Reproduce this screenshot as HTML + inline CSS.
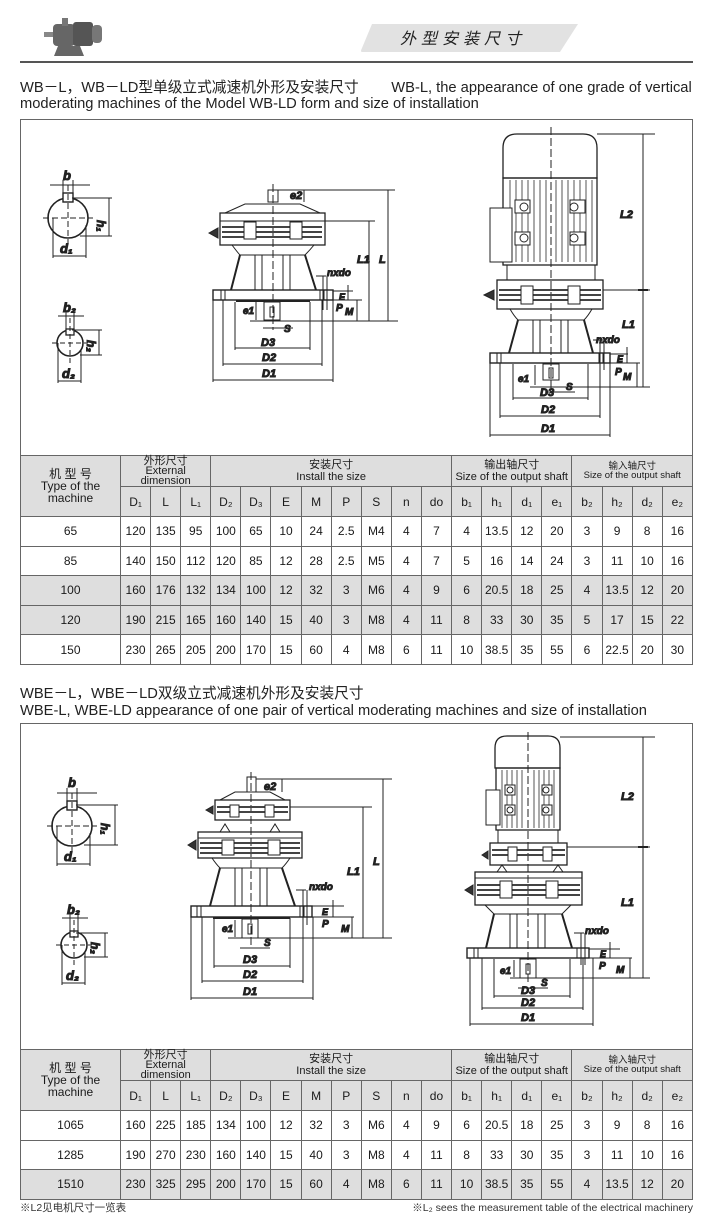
<!DOCTYPE html>
<html><head><meta charset="utf-8">
<style>
html,body{margin:0;padding:0;background:#fff;}
body{width:710px;height:1220px;position:relative;overflow:hidden;font-family:"Liberation Sans","Noto Sans CJK SC",sans-serif;color:#222;}
.abs{position:absolute;}
.h{font-size:14.7px;line-height:16px;white-space:nowrap;color:#222;}
table{position:absolute;left:20px;width:673px;border-collapse:collapse;table-layout:fixed;font-family:"Liberation Sans","Noto Sans CJK SC",sans-serif;}
td{border:1px solid #666;text-align:center;font-size:12px;padding:0;color:#1a1a1a;}
.g td,td.g{background:#dedede;}
.hd{font-size:11px;line-height:10px;}
.sm{font-size:9.5px;line-height:9px;}
.box{position:absolute;border:1.5px solid #666;left:20px;width:671px;}
svg text{font-family:"Liberation Sans",sans-serif;font-style:italic;font-weight:bold;fill:#222;}
</style></head><body>

<svg class="abs" style="left:40px;top:8px" width="70" height="52">
<rect x="4" y="24" width="10" height="5" fill="#888"/>
<rect x="13" y="16" width="22" height="22" rx="4" fill="#666"/>
<rect x="22" y="10" width="6" height="8" fill="#777"/>
<rect x="33" y="14" width="20" height="24" rx="3" fill="#555"/>
<rect x="52" y="17" width="10" height="18" rx="4" fill="#777"/>
<path d="M18 38 L40 38 L44 48 L14 48 Z" fill="#666"/>
</svg>
<svg class="abs" style="left:360px;top:22px" width="220" height="32">
<path d="M12 2 L218 2 L200 30 L2 30 Q0 30 2 26 Z" fill="#e2e2e2"/>
<text x="40" y="22" style="font-family:'Noto Sans CJK SC',sans-serif;font-size:16px;font-weight:normal;letter-spacing:5px" fill="#333">外型安装尺寸</text>
</svg>
<div class="abs" style="left:20px;top:61px;width:673px;height:2px;background:#555"></div>

<div class="abs h" style="left:20px;top:80px">WB－L，WB－LD型单级立式减速机外形及安装尺寸&nbsp;&nbsp;&nbsp;&nbsp;&nbsp;&nbsp;&nbsp;&nbsp;WB-L, the appearance of one grade of vertical</div>
<div class="abs h" style="left:20px;top:96px">moderating machines of the Model WB-LD form and size of installation</div>

<div class="box" style="top:119px;height:336px"></div>

<div class="abs h" style="left:20px;top:686px">WBE－L，WBE－LD双级立式减速机外形及安装尺寸</div>
<div class="abs h" style="left:20px;top:703px">WBE-L, WBE-LD appearance of one pair of vertical moderating machines and size of installation</div>

<div class="box" style="top:723px;height:326px"></div>

<svg class="abs" style="left:0;top:0" width="710" height="1220" fill="none" stroke="#222" stroke-width="1">
<g>
<circle cx="68" cy="218" r="20" stroke-width="1.6"/>
<rect x="63" y="193" width="10" height="9" fill="#fff" stroke-width="1.4"/>
<line x1="43" y1="218" x2="93" y2="218" stroke-dasharray="6 3"/>
<line x1="68" y1="185" x2="68" y2="246" stroke-dasharray="6 3"/>
<line x1="50" y1="185" x2="90" y2="185"/><line x1="63" y1="180" x2="63" y2="200"/><line x1="73" y1="180" x2="73" y2="200"/>
<line x1="72" y1="198" x2="112" y2="198"/><line x1="80" y1="236" x2="112" y2="236"/><line x1="109" y1="198" x2="109" y2="236"/>
<line x1="53" y1="218" x2="53" y2="258"/><line x1="86" y1="225" x2="86" y2="258"/><line x1="53" y1="256" x2="86" y2="256"/>
<text x="63" y="180" font-size="13" font-style="normal">b</text>
<text x="102" y="225" font-size="12" font-style="normal" transform="rotate(90 102 220)">h₁</text>
<text x="60" y="253" font-size="13" font-style="normal">d₁</text>
</g>
<g>
<circle cx="70" cy="343" r="13" stroke-width="1.6"/>
<rect x="66" y="329" width="8" height="6" fill="#fff" stroke-width="1.3"/>
<line x1="52" y1="343" x2="88" y2="343" stroke-dasharray="5 3"/>
<line x1="70" y1="318" x2="70" y2="365" stroke-dasharray="5 3"/>
<line x1="58" y1="316" x2="84" y2="316"/><line x1="66" y1="312" x2="66" y2="332"/><line x1="74" y1="312" x2="74" y2="332"/>
<line x1="72" y1="330" x2="102" y2="330"/><line x1="80" y1="355" x2="102" y2="355"/><line x1="99" y1="330" x2="99" y2="355"/>
<line x1="58" y1="343" x2="58" y2="383"/><line x1="81" y1="350" x2="81" y2="383"/><line x1="58" y1="381" x2="81" y2="381"/>
<text x="63" y="312" font-size="13" font-style="normal">b₂</text>
<text x="89" y="348" font-size="12" font-style="normal" transform="rotate(90 92 343)">h₂</text>
<text x="62" y="378" font-size="13" font-style="normal">d₂</text>
</g>

<g>
<line x1="273" y1="184" x2="273" y2="330" stroke-dasharray="8 3"/>
<rect x="268" y="190" width="10" height="12"/>
<path d="M225 213 L245 204 L300 204 L320 213 Z"/>
<rect x="220" y="213" width="105" height="32" stroke-width="1.3"/>
<line x1="220" y1="221" x2="325" y2="221"/>
<g stroke="#444" stroke-width="2"><line x1="222" y1="227" x2="322" y2="227"/><line x1="222" y1="232" x2="322" y2="232"/><line x1="222" y1="237" x2="322" y2="237"/></g>
<rect x="244" y="222" width="12" height="17" fill="#fff"/><rect x="290" y="222" width="12" height="17" fill="#fff"/>
<path d="M209 233 L218 228 L218 238 Z" fill="#333"/>
<path d="M232 245 Q238 253 240 255 L305 255 Q310 250 314 245"/>
<path d="M240 255 L231 290 M305 255 L316 290" stroke-width="2"/>
<line x1="255" y1="255" x2="255" y2="290"/><line x1="262" y1="255" x2="262" y2="290"/><line x1="283" y1="255" x2="283" y2="290"/><line x1="290" y1="255" x2="290" y2="290"/>
<rect x="213" y="290" width="120" height="10" stroke-width="1.4"/>
<line x1="221" y1="290" x2="221" y2="300"/><line x1="225" y1="290" x2="225" y2="300"/><line x1="320" y1="290" x2="320" y2="300"/><line x1="324" y1="290" x2="324" y2="300"/>
<line x1="236" y1="301" x2="310" y2="301" stroke-width="2"/>
<rect x="264" y="302" width="16" height="18"/>
<rect x="270" y="307" width="4" height="10"/>
<line x1="278" y1="190" x2="395" y2="190"/><line x1="325" y1="221" x2="375" y2="221"/><line x1="250" y1="321" x2="398" y2="321"/>
<line x1="388" y1="190" x2="388" y2="321"/><line x1="369" y1="221" x2="369" y2="321"/>
<line x1="304" y1="190" x2="304" y2="202"/>
<line x1="333" y1="291" x2="353" y2="291"/><line x1="333" y1="300" x2="362" y2="300"/>
<line x1="348" y1="285" x2="348" y2="300"/><line x1="357" y1="300" x2="357" y2="321"/>
<line x1="316" y1="276" x2="326" y2="276"/><line x1="323" y1="276" x2="323" y2="310"/><line x1="327" y1="276" x2="327" y2="310"/>
<line x1="256" y1="302" x2="256" y2="320"/>
<line x1="263" y1="328" x2="293" y2="328"/>
<line x1="235" y1="302" x2="235" y2="350"/><line x1="310" y1="302" x2="310" y2="350"/><line x1="235" y1="348" x2="310" y2="348"/>
<line x1="223" y1="300" x2="223" y2="366"/><line x1="322" y1="300" x2="322" y2="366"/><line x1="223" y1="364" x2="322" y2="364"/>
<line x1="213" y1="300" x2="213" y2="382"/><line x1="333" y1="300" x2="333" y2="382"/><line x1="213" y1="380" x2="333" y2="380"/>
<text x="290" y="199" font-size="11">e2</text>
<text x="357" y="263" font-size="11">L1</text><text x="379" y="263" font-size="11">L</text>
<text x="327" y="276" font-size="10">nxdo</text>
<text x="339" y="300" font-size="9">E</text><text x="336" y="311" font-size="10">P</text><text x="345" y="315" font-size="10">M</text>
<text x="243" y="314" font-size="10">e1</text><text x="284" y="332" font-size="10">S</text>
<text x="261" y="346" font-size="11">D3</text><text x="262" y="361" font-size="11">D2</text><text x="262" y="377" font-size="11">D1</text>
</g>

<g>
<line x1="551" y1="127" x2="551" y2="390" stroke-dasharray="8 3"/>
<path d="M503 178 L503 148 Q503 134 517 134 L583 134 Q597 134 597 148 L597 178 Z" stroke-width="1.3"/>
<rect x="503" y="178" width="94" height="87" stroke-width="1.3"/>
<g stroke="#555"><line x1="510" y1="180" x2="510" y2="262"/><line x1="516" y1="180" x2="516" y2="262"/><line x1="522" y1="180" x2="522" y2="262"/><line x1="528" y1="180" x2="528" y2="262"/><line x1="534" y1="180" x2="534" y2="262"/><line x1="540" y1="180" x2="540" y2="262"/><line x1="546" y1="180" x2="546" y2="262"/><line x1="556" y1="180" x2="556" y2="262"/><line x1="562" y1="180" x2="562" y2="262"/><line x1="568" y1="180" x2="568" y2="262"/><line x1="574" y1="180" x2="574" y2="262"/><line x1="580" y1="180" x2="580" y2="262"/><line x1="586" y1="180" x2="586" y2="262"/><line x1="592" y1="180" x2="592" y2="262"/></g>
<rect x="515" y="200" width="15" height="13" fill="#fff"/><circle cx="524" cy="207" r="4"/>
<rect x="515" y="232" width="15" height="13" fill="#fff"/><circle cx="524" cy="238" r="4"/>
<rect x="570" y="200" width="15" height="13" fill="#fff"/><circle cx="574" cy="207" r="4"/>
<rect x="570" y="232" width="15" height="13" fill="#fff"/><circle cx="574" cy="238" r="4"/>
<rect x="490" y="208" width="22" height="54" fill="#fff"/>
<rect x="507" y="265" width="88" height="15"/>
<rect x="497" y="280" width="106" height="29" stroke-width="1.3"/>
<g stroke="#444" stroke-width="2"><line x1="499" y1="290" x2="601" y2="290"/><line x1="499" y1="295" x2="601" y2="295"/><line x1="499" y1="300" x2="601" y2="300"/></g>
<rect x="521" y="286" width="12" height="18" fill="#fff"/><rect x="568" y="286" width="12" height="18" fill="#fff"/>
<path d="M484 295 L494 290 L494 300 Z" fill="#333"/>
<path d="M510 309 Q514 316 518 320 L584 320 Q588 316 592 309"/>
<path d="M518 320 L509 353 M584 320 L593 353" stroke-width="2"/>
<line x1="533" y1="320" x2="533" y2="353"/><line x1="540" y1="320" x2="540" y2="353"/><line x1="561" y1="320" x2="561" y2="353"/><line x1="568" y1="320" x2="568" y2="353"/>
<rect x="490" y="353" width="120" height="10" stroke-width="1.4"/>
<line x1="497" y1="353" x2="497" y2="363"/><line x1="501" y1="353" x2="501" y2="363"/><line x1="599" y1="353" x2="599" y2="363"/><line x1="603" y1="353" x2="603" y2="363"/>
<rect x="543" y="364" width="16" height="16"/><rect x="549" y="368" width="4" height="10"/>
<line x1="597" y1="134" x2="655" y2="134"/><line x1="603" y1="290" x2="650" y2="290"/><line x1="530" y1="387" x2="650" y2="387"/>
<line x1="643" y1="134" x2="643" y2="387"/><line x1="638" y1="290" x2="648" y2="290" stroke-width="2"/>
<line x1="610" y1="354" x2="628" y2="354"/><line x1="610" y1="363" x2="640" y2="363"/>
<line x1="627" y1="347" x2="627" y2="363"/><line x1="637" y1="363" x2="637" y2="387"/>
<line x1="593" y1="340" x2="603" y2="340"/><line x1="600" y1="340" x2="600" y2="370"/><line x1="604" y1="340" x2="604" y2="370"/>
<line x1="535" y1="365" x2="535" y2="385"/>
<line x1="545" y1="392" x2="575" y2="392"/>
<line x1="513" y1="364" x2="513" y2="400"/><line x1="588" y1="364" x2="588" y2="400"/><line x1="513" y1="398" x2="588" y2="398"/>
<line x1="500" y1="363" x2="500" y2="418"/><line x1="600" y1="363" x2="600" y2="418"/><line x1="500" y1="416" x2="600" y2="416"/>
<line x1="490" y1="363" x2="490" y2="437"/><line x1="610" y1="363" x2="610" y2="437"/><line x1="490" y1="435" x2="610" y2="435"/>
<text x="620" y="218" font-size="11">L2</text><text x="622" y="328" font-size="11">L1</text>
<text x="596" y="343" font-size="10">nxdo</text>
<text x="617" y="362" font-size="9">E</text><text x="615" y="375" font-size="10">P</text><text x="623" y="380" font-size="10">M</text>
<text x="518" y="382" font-size="10">e1</text><text x="566" y="390" font-size="10">S</text>
<text x="540" y="396" font-size="11">D3</text><text x="541" y="413" font-size="11">D2</text><text x="541" y="432" font-size="11">D1</text>
</g>

<g>
<circle cx="72" cy="826" r="20" stroke-width="1.6"/>
<rect x="67" y="801" width="10" height="9" fill="#fff" stroke-width="1.4"/>
<line x1="47" y1="826" x2="97" y2="826" stroke-dasharray="6 3"/>
<line x1="72" y1="793" x2="72" y2="854" stroke-dasharray="6 3"/>
<line x1="57" y1="793" x2="97" y2="793"/><line x1="67" y1="788" x2="67" y2="808"/><line x1="77" y1="788" x2="77" y2="808"/>
<line x1="76" y1="805" x2="118" y2="805"/><line x1="84" y1="845" x2="118" y2="845"/><line x1="115" y1="805" x2="115" y2="845"/>
<line x1="57" y1="826" x2="57" y2="866"/><line x1="90" y1="833" x2="90" y2="866"/><line x1="57" y1="864" x2="90" y2="864"/>
<text x="68" y="787" font-size="13" font-style="normal">b</text>
<text x="104" y="830" font-size="12" font-style="normal" transform="rotate(90 106 825)">h₁</text>
<text x="64" y="861" font-size="13" font-style="normal">d₁</text>
</g>
<g>
<circle cx="74" cy="945" r="13" stroke-width="1.6"/>
<rect x="70" y="931" width="8" height="6" fill="#fff" stroke-width="1.3"/>
<line x1="56" y1="945" x2="92" y2="945" stroke-dasharray="5 3"/>
<line x1="74" y1="920" x2="74" y2="967" stroke-dasharray="5 3"/>
<line x1="62" y1="918" x2="88" y2="918"/><line x1="70" y1="914" x2="70" y2="934"/><line x1="78" y1="914" x2="78" y2="934"/>
<line x1="76" y1="933" x2="108" y2="933"/><line x1="84" y1="957" x2="108" y2="957"/><line x1="105" y1="933" x2="105" y2="957"/>
<line x1="62" y1="945" x2="62" y2="985"/><line x1="85" y1="952" x2="85" y2="985"/><line x1="62" y1="983" x2="85" y2="983"/>
<text x="67" y="914" font-size="13" font-style="normal">b₂</text>
<text x="93" y="950" font-size="12" font-style="normal" transform="rotate(90 96 945)">h₂</text>
<text x="66" y="980" font-size="13" font-style="normal">d₂</text>
</g>

<g>
<line x1="251" y1="772" x2="251" y2="945" stroke-dasharray="8 3"/>
<rect x="247" y="777" width="9" height="15"/>
<path d="M220 800 L235 792 L270 792 L285 800 Z"/>
<rect x="215" y="800" width="75" height="20" stroke-width="1.3"/>
<g stroke="#444" stroke-width="2"><line x1="217" y1="807" x2="288" y2="807"/><line x1="217" y1="812" x2="288" y2="812"/></g>
<rect x="230" y="805" width="9" height="12" fill="#fff"/><rect x="265" y="805" width="9" height="12" fill="#fff"/>
<path d="M206 810 L213 806 L213 814 Z" fill="#333"/>
<path d="M220 832 L225 824 L230 832 M270 832 L275 824 L280 832"/>
<rect x="198" y="832" width="104" height="26" stroke-width="1.3"/>
<line x1="198" y1="838" x2="302" y2="838"/>
<g stroke="#444" stroke-width="2"><line x1="200" y1="843" x2="300" y2="843"/><line x1="200" y1="848" x2="300" y2="848"/><line x1="200" y1="853" x2="300" y2="853"/></g>
<rect x="222" y="840" width="12" height="15" fill="#fff"/><rect x="268" y="840" width="12" height="15" fill="#fff"/>
<path d="M188 845 L196 840 L196 850 Z" fill="#333"/>
<path d="M212 858 Q216 864 220 868 L282 868 Q286 864 290 858"/>
<path d="M220 868 L210 906 M282 868 L295 906" stroke-width="2"/>
<line x1="235" y1="868" x2="235" y2="906"/><line x1="242" y1="868" x2="242" y2="906"/><line x1="260" y1="868" x2="260" y2="906"/><line x1="267" y1="868" x2="267" y2="906"/>
<rect x="191" y="906" width="121" height="11" stroke-width="1.4"/>
<line x1="197" y1="906" x2="197" y2="917"/><line x1="201" y1="906" x2="201" y2="917"/><line x1="300" y1="906" x2="300" y2="917"/><line x1="304" y1="906" x2="304" y2="917"/>
<line x1="213" y1="918" x2="290" y2="918" stroke-width="2"/>
<rect x="242" y="919" width="16" height="19"/><rect x="248" y="924" width="4" height="10"/>
<line x1="256" y1="779" x2="392" y2="779"/><line x1="290" y1="807" x2="372" y2="807"/><line x1="228" y1="938" x2="392" y2="938"/>
<line x1="383" y1="779" x2="383" y2="938"/><line x1="363" y1="807" x2="363" y2="938"/>
<line x1="282" y1="779" x2="282" y2="792"/>
<line x1="312" y1="906" x2="344" y2="906"/><line x1="312" y1="917" x2="354" y2="917"/>
<line x1="333" y1="900" x2="333" y2="917"/><line x1="352" y1="917" x2="352" y2="938"/>
<line x1="296" y1="890" x2="306" y2="890"/><line x1="303" y1="890" x2="303" y2="925"/><line x1="307" y1="890" x2="307" y2="925"/>
<line x1="235" y1="920" x2="235" y2="937"/>
<line x1="240" y1="948" x2="270" y2="948"/>
<line x1="214" y1="918" x2="214" y2="968"/><line x1="290" y1="918" x2="290" y2="968"/><line x1="214" y1="966" x2="290" y2="966"/>
<line x1="202" y1="917" x2="202" y2="983"/><line x1="303" y1="917" x2="303" y2="983"/><line x1="202" y1="981" x2="303" y2="981"/>
<line x1="191" y1="917" x2="191" y2="1000"/><line x1="313" y1="917" x2="313" y2="1000"/><line x1="191" y1="998" x2="313" y2="998"/>
<text x="264" y="790" font-size="11">e2</text>
<text x="347" y="875" font-size="11">L1</text><text x="373" y="865" font-size="11">L</text>
<text x="309" y="890" font-size="10">nxdo</text>
<text x="322" y="915" font-size="9">E</text><text x="322" y="927" font-size="10">P</text><text x="341" y="932" font-size="10">M</text>
<text x="222" y="932" font-size="10">e1</text><text x="264" y="946" font-size="10">S</text>
<text x="243" y="963" font-size="11">D3</text><text x="243" y="978" font-size="11">D2</text><text x="243" y="995" font-size="11">D1</text>
</g>

<g>
<line x1="528" y1="732" x2="528" y2="985" stroke-dasharray="8 3"/>
<path d="M495 768 L495 748 Q495 736 507 736 L548 736 Q560 736 560 748 L560 768 Z" stroke-width="1.3"/>
<rect x="496" y="768" width="64" height="62" stroke-width="1.3"/>
<g stroke="#555"><line x1="502" y1="770" x2="502" y2="828"/><line x1="507" y1="770" x2="507" y2="828"/><line x1="512" y1="770" x2="512" y2="828"/><line x1="517" y1="770" x2="517" y2="828"/><line x1="522" y1="770" x2="522" y2="828"/><line x1="534" y1="770" x2="534" y2="828"/><line x1="539" y1="770" x2="539" y2="828"/><line x1="544" y1="770" x2="544" y2="828"/><line x1="549" y1="770" x2="549" y2="828"/><line x1="554" y1="770" x2="554" y2="828"/></g>
<rect x="505" y="785" width="10" height="10" fill="#fff"/><circle cx="510" cy="790" r="3"/>
<rect x="505" y="805" width="10" height="10" fill="#fff"/><circle cx="510" cy="810" r="3"/>
<rect x="542" y="785" width="10" height="10" fill="#fff"/><circle cx="546" cy="790" r="3"/>
<rect x="542" y="805" width="10" height="10" fill="#fff"/><circle cx="546" cy="810" r="3"/>
<rect x="486" y="790" width="14" height="35" fill="#fff"/>
<rect x="498" y="830" width="60" height="13"/>
<rect x="490" y="843" width="77" height="22" stroke-width="1.3"/>
<g stroke="#444" stroke-width="2"><line x1="492" y1="850" x2="565" y2="850"/><line x1="492" y1="855" x2="565" y2="855"/></g>
<rect x="508" y="847" width="9" height="14" fill="#fff"/><rect x="543" y="847" width="9" height="14" fill="#fff"/>
<path d="M482 855 L488 851 L488 859 Z" fill="#333"/>
<path d="M497 872 L502 865 L507 872 M553 872 L558 865 L563 872"/>
<rect x="475" y="872" width="107" height="33" stroke-width="1.3"/>
<line x1="475" y1="878" x2="582" y2="878"/>
<g stroke="#444" stroke-width="2"><line x1="477" y1="885" x2="580" y2="885"/><line x1="477" y1="890" x2="580" y2="890"/><line x1="477" y1="895" x2="580" y2="895"/></g>
<rect x="500" y="881" width="12" height="17" fill="#fff"/><rect x="546" y="881" width="12" height="17" fill="#fff"/>
<path d="M465 890 L473 885 L473 895 Z" fill="#333"/>
<path d="M485 905 Q490 910 494 914 L562 914 Q566 910 571 905"/>
<path d="M494 914 L486 948 M562 914 L572 948" stroke-width="2"/>
<line x1="510" y1="914" x2="510" y2="948"/><line x1="517" y1="914" x2="517" y2="948"/><line x1="538" y1="914" x2="538" y2="948"/><line x1="545" y1="914" x2="545" y2="948"/>
<rect x="467" y="948" width="122" height="10" stroke-width="1.4"/>
<line x1="474" y1="948" x2="474" y2="958"/><line x1="478" y1="948" x2="478" y2="958"/><line x1="577" y1="948" x2="577" y2="958"/><line x1="581" y1="948" x2="581" y2="958"/>
<rect x="520" y="959" width="16" height="19"/><rect x="526" y="964" width="4" height="10"/>
<line x1="560" y1="737" x2="655" y2="737"/><line x1="567" y1="847" x2="650" y2="847"/><line x1="510" y1="978" x2="650" y2="978"/>
<line x1="643" y1="737" x2="643" y2="978"/><line x1="638" y1="847" x2="648" y2="847" stroke-width="2"/>
<line x1="589" y1="949" x2="620" y2="949"/><line x1="589" y1="958" x2="632" y2="958"/>
<line x1="610" y1="942" x2="610" y2="958"/><line x1="630" y1="958" x2="630" y2="978"/>
<line x1="574" y1="933" x2="584" y2="933"/><line x1="581" y1="933" x2="581" y2="965"/><line x1="585" y1="933" x2="585" y2="965"/>
<line x1="514" y1="960" x2="514" y2="977"/>
<line x1="518" y1="988" x2="548" y2="988"/>
<line x1="494" y1="959" x2="494" y2="998"/><line x1="570" y1="959" x2="570" y2="998"/><line x1="494" y1="996" x2="570" y2="996"/>
<line x1="482" y1="958" x2="482" y2="1010"/><line x1="583" y1="958" x2="583" y2="1010"/><line x1="482" y1="1008" x2="583" y2="1008"/>
<line x1="470" y1="958" x2="470" y2="1026"/><line x1="593" y1="958" x2="593" y2="1026"/><line x1="470" y1="1024" x2="593" y2="1024"/>
<text x="621" y="800" font-size="11">L2</text><text x="621" y="906" font-size="11">L1</text>
<text x="585" y="934" font-size="10">nxdo</text>
<text x="600" y="957" font-size="9">E</text><text x="599" y="969" font-size="10">P</text><text x="616" y="973" font-size="10">M</text>
<text x="500" y="974" font-size="10">e1</text><text x="541" y="986" font-size="10">S</text>
<text x="521" y="994" font-size="11">D3</text><text x="521" y="1006" font-size="11">D2</text><text x="521" y="1021" font-size="11">D1</text>
</g>
</svg>

<table style="top:455px">
<colgroup><col style="width:100px"><col span="19"></colgroup>
<tr class="g" style="height:28px"><td rowspan="2" class="hd" style="font-size:12px;line-height:12px">机 型 号<br>Type of the<br>machine</td><td colspan="3" class="hd">外形尺寸<br>External<br>dimension</td><td colspan="8" class="hd" style="line-height:12px">安装尺寸<br>Install the size</td><td colspan="4" class="hd" style="line-height:12px">输出轴尺寸<br>Size of the output shaft</td><td colspan="4" class="sm">输入轴尺寸<br>Size of the output shaft</td></tr>
<tr class="g" style="height:30px"><td>D₁</td><td>L</td><td>L₁</td><td>D₂</td><td>D₃</td><td>E</td><td>M</td><td>P</td><td>S</td><td>n</td><td>do</td><td>b₁</td><td>h₁</td><td>d₁</td><td>e₁</td><td>b₂</td><td>h₂</td><td>d₂</td><td>e₂</td></tr>
<tr style="height:29.6px"><td>65</td><td>120</td><td>135</td><td>95</td><td>100</td><td>65</td><td>10</td><td>24</td><td>2.5</td><td>M4</td><td>4</td><td>7</td><td>4</td><td>13.5</td><td>12</td><td>20</td><td>3</td><td>9</td><td>8</td><td>16</td></tr>
<tr style="height:29.6px"><td>85</td><td>140</td><td>150</td><td>112</td><td>120</td><td>85</td><td>12</td><td>28</td><td>2.5</td><td>M5</td><td>4</td><td>7</td><td>5</td><td>16</td><td>14</td><td>24</td><td>3</td><td>11</td><td>10</td><td>16</td></tr>
<tr class="g" style="height:29.6px"><td>100</td><td>160</td><td>176</td><td>132</td><td>134</td><td>100</td><td>12</td><td>32</td><td>3</td><td>M6</td><td>4</td><td>9</td><td>6</td><td>20.5</td><td>18</td><td>25</td><td>4</td><td>13.5</td><td>12</td><td>20</td></tr>
<tr class="g" style="height:29.6px"><td>120</td><td>190</td><td>215</td><td>165</td><td>160</td><td>140</td><td>15</td><td>40</td><td>3</td><td>M8</td><td>4</td><td>11</td><td>8</td><td>33</td><td>30</td><td>35</td><td>5</td><td>17</td><td>15</td><td>22</td></tr>
<tr style="height:29.6px"><td>150</td><td>230</td><td>265</td><td>205</td><td>200</td><td>170</td><td>15</td><td>60</td><td>4</td><td>M8</td><td>6</td><td>11</td><td>10</td><td>38.5</td><td>35</td><td>55</td><td>6</td><td>22.5</td><td>20</td><td>30</td></tr>
</table>

<table style="top:1049px">
<colgroup><col style="width:100px"><col span="19"></colgroup>
<tr class="g" style="height:29px"><td rowspan="2" class="hd" style="font-size:12px;line-height:12px">机 型 号<br>Type of the<br>machine</td><td colspan="3" class="hd">外形尺寸<br>External<br>dimension</td><td colspan="8" class="hd" style="line-height:12px">安装尺寸<br>Install the size</td><td colspan="4" class="hd" style="line-height:12px">输出轴尺寸<br>Size of the output shaft</td><td colspan="4" class="sm">输入轴尺寸<br>Size of the output shaft</td></tr>
<tr class="g" style="height:30px"><td>D₁</td><td>L</td><td>L₁</td><td>D₂</td><td>D₃</td><td>E</td><td>M</td><td>P</td><td>S</td><td>n</td><td>do</td><td>b₁</td><td>h₁</td><td>d₁</td><td>e₁</td><td>b₂</td><td>h₂</td><td>d₂</td><td>e₂</td></tr>
<tr style="height:29.6px"><td>1065</td><td>160</td><td>225</td><td>185</td><td>134</td><td>100</td><td>12</td><td>32</td><td>3</td><td>M6</td><td>4</td><td>9</td><td>6</td><td>20.5</td><td>18</td><td>25</td><td>3</td><td>9</td><td>8</td><td>16</td></tr>
<tr style="height:29.6px"><td>1285</td><td>190</td><td>270</td><td>230</td><td>160</td><td>140</td><td>15</td><td>40</td><td>3</td><td>M8</td><td>4</td><td>11</td><td>8</td><td>33</td><td>30</td><td>35</td><td>3</td><td>11</td><td>10</td><td>16</td></tr>
<tr class="g" style="height:29.6px"><td>1510</td><td>230</td><td>325</td><td>295</td><td>200</td><td>170</td><td>15</td><td>60</td><td>4</td><td>M8</td><td>6</td><td>11</td><td>10</td><td>38.5</td><td>35</td><td>55</td><td>4</td><td>13.5</td><td>12</td><td>20</td></tr>
</table>

<div class="abs" style="left:20px;top:1200px;font-size:10.5px;color:#333">※L2见电机尺寸一览表</div>
<div class="abs" style="left:386px;top:1200px;width:307px;text-align:right;font-size:10.5px;color:#333;white-space:nowrap">※L₂ sees the measurement table of the electrical machinery</div>
</body></html>
